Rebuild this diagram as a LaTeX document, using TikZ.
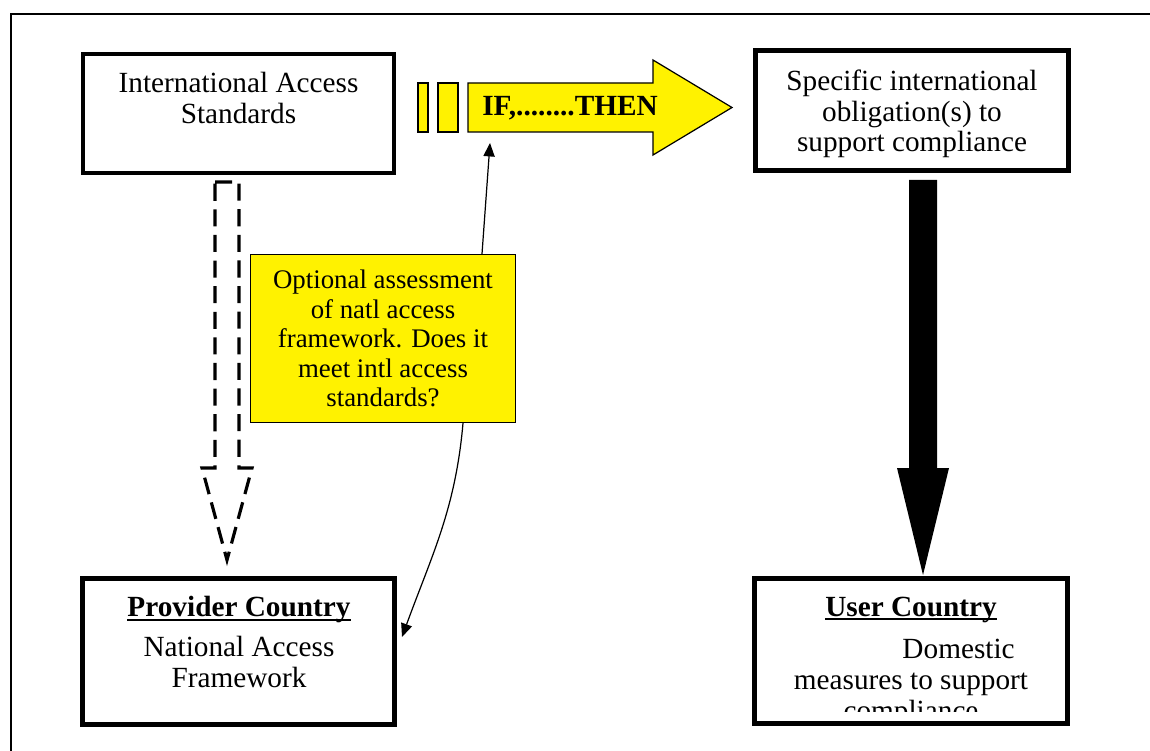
\documentclass[tikz,border=0pt]{standalone}
\usepackage{fontspec}
\setmainfont{Liberation Serif}
\usetikzlibrary{arrows.meta,positioning,calc}
\newcommand{\ctryline}[1]{{\setbox0\hbox{#1}\rlap{\rule[-1.7pt]{\wd0}{0.8pt}}\box0}}
\tikzset{
  frame/.style={draw,line width=2pt,inner sep=0pt},
  boxtext/.style={align=center,inner sep=0pt,font=\fontsize{12}{13}\selectfont},
  note/.style={draw,fill=yellow,line width=0.5pt,inner sep=0pt,minimum width=108.7pt,
    minimum height=68.9pt,align=center,font=\fontsize{11}{12.1}\selectfont},
  conn/.style={line width=0.5pt,-{Triangle[length=5.5pt,width=4.6pt]}},
}
\begin{document}
\begin{tikzpicture}[x=0.41pt,y=-0.41pt]
  \useasboundingbox (0,0) rectangle (1150,751);
  \draw[line width=0.7pt] (1150,14) -- (11,14) -- (11,751);

  \node[frame,minimum width=127.5pt,minimum height=48.8pt] (intl) at (238.5,113.5) {};
  \node[frame,minimum width=128.3pt,minimum height=49.2pt] (oblig) at (912,110.5) {};
  \node[frame,minimum width=128pt,minimum height=59.9pt] (prov) at (238.5,651.5) {};
  \node[frame,minimum width=128.3pt,minimum height=59.5pt] (user) at (911,651) {};

  \node[boxtext,anchor=base] (intltext) at (238.5,124) {International Access\\Standards};
  \node[boxtext,anchor=base,font=\fontsize{12}{12.7}\selectfont] (obligtext) at (912,152)
    {Specific international\\obligation(s) to\\support compliance};
  \node[boxtext,anchor=base,font=\fontsize{12}{12.4}\selectfont] (provtext) at (239,687)
    {\ctryline{\textbf{Provider Country}}\\[4pt]National Access\\Framework};
  \begin{scope}
    \clip (754,578) rectangle (1068,711);
    \node[boxtext,anchor=base,font=\fontsize{12}{12.7}\selectfont] (usertext) at (911,720)
      {\ctryline{\textbf{User Country}}\\[4.5pt]\hspace*{39pt}Domestic\\measures to support\\compliance};
  \end{scope}

  \foreach \a/\b in {418/428,438/458}{
    \filldraw[fill=yellow,line width=0.5pt] (\a,83) rectangle (\b,132);
  }
  \filldraw[fill=yellow,line width=0.5pt] (468,83) -- (653,83) -- (653,60) -- (732,107.5)
    -- (653,155) -- (653,132) -- (468,132) -- cycle;
  \node[anchor=base,inner sep=0pt,font=\fontsize{12}{13}\selectfont\bfseries] (ifthen) at (570,116) {IF,........THEN};

  \draw[line width=1.3pt,dash pattern=on 7pt off 3.5pt] (215,182) -- (239,182) -- (239,468)
    -- (252,468) -- (227,560) -- (202,468) -- (215,468) -- cycle;
  \fill (909,180) -- (937,180) -- (937,468) -- (949,468) -- (923,575) -- (897,468) -- (909,468) -- cycle;

  \node[note] (assess) at (383,338.5) {Optional assessment\\of natl access\\framework. Does it\\meet intl access\\standards?};

  \coordinate (ifbase) at (490,143);
  \coordinate (provin) at (402,637);
  \draw[conn] (assess.north -| 482,0) -- (ifbase);
  \draw[conn] (assess.south -| 463,0) to[out=-95,in=70] (provin);
\end{tikzpicture}
\end{document}
